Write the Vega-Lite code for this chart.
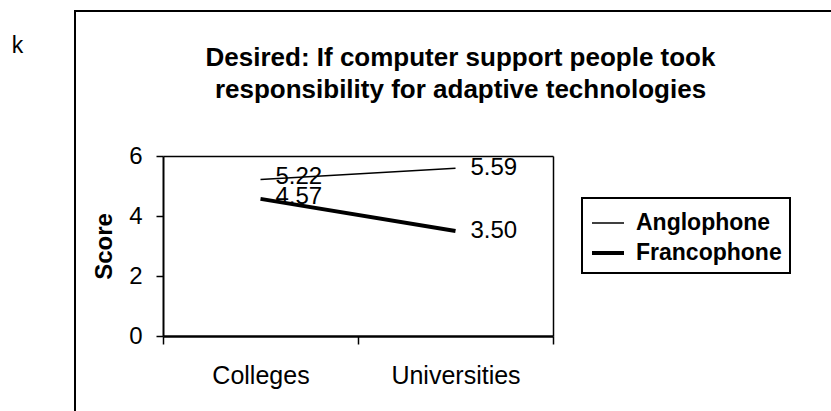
{
  "$schema": "https://vega.github.io/schema/vega-lite/v6.json",
  "width": 770,
  "height": 420,
  "autosize": "none",
  "padding": {"left": 75, "top": 11, "right": 0, "bottom": 0},
  "background": "white",
  "config": {
    "view": {"stroke": "black", "strokeWidth": 2},
    "font": "Liberation Sans",
    "axis": {"grid": false, "domainColor": "black", "tickColor": "black", "labelColor": "black", "titleColor": "black", "labelFont": "Liberation Sans", "titleFont": "Liberation Sans"}
  },
  "data": {
    "values": [
      {"type": "Colleges", "group": "Anglophone", "score": 5.22},
      {"type": "Universities", "group": "Anglophone", "score": 5.59},
      {"type": "Colleges", "group": "Francophone", "score": 4.57},
      {"type": "Universities", "group": "Francophone", "score": 3.50}
    ]
  },
  "layer": [
    {
      "mark": {"type": "line", "color": "black"},
      "encoding": {
        "x": {
          "field": "type", "type": "nominal", "bandPosition": 0.5,
          "scale": {"type": "band", "range": [88, 478], "paddingInner": 0, "paddingOuter": 0},
          "axis": {"orient": "bottom", "offset": -95, "title": null, "tickBand": "extent", "labelAngle": 0, "labelFontSize": 25, "labelBaseline": "middle", "labelPadding": 31, "tickSize": 8, "tickWidth": 1.5, "domainWidth": 2.5}
        },
        "y": {
          "field": "score", "type": "quantitative",
          "scale": {"domain": [0, 6], "range": [325, 145], "nice": false},
          "axis": {"orient": "left", "offset": -88, "values": [0, 2, 4, 6], "title": "Score", "titleFontSize": 24, "titleFontWeight": "bold", "titleAngle": -90, "titleX": -59, "titleY": 235, "titleAlign": "center", "titleBaseline": "middle", "labelFontSize": 24, "labelPadding": 14, "tickSize": 7, "tickWidth": 1.5, "domainWidth": 2}
        },
        "strokeWidth": {
          "field": "group", "type": "nominal",
          "scale": {"domain": ["Anglophone", "Francophone"], "range": [1.5, 4]},
          "legend": {
            "title": null, "orient": "none", "legendX": 507, "legendY": 187,
            "strokeColor": "black", "padding": 8,
            "symbolType": "stroke", "symbolSize": 1024, "symbolStrokeColor": "black",
            "labelFontSize": 23, "labelFontWeight": "bold", "labelFont": "Liberation Sans", "labelColor": "black",
            "labelOffset": 10, "rowPadding": -1,
            "encode": {"legend": {"update": {"strokeWidth": {"value": 2}}}}
          }
        }
      }
    },
    {
      "transform": [{"filter": "datum.type == 'Colleges'"}],
      "mark": {"type": "text", "align": "left", "baseline": "middle", "dx": 15, "dy": -2, "fontSize": 24, "font": "Liberation Sans", "color": "black"},
      "encoding": {
        "x": {
          "field": "type", "type": "nominal", "bandPosition": 0.5,
          "scale": {"type": "band", "range": [88, 478], "paddingInner": 0, "paddingOuter": 0},
          "axis": {"orient": "top", "offset": -145, "labels": false, "ticks": false, "domainWidth": 1.5,
            "title": ["Desired: If computer support people took", "responsibility for adaptive technologies"],
            "titleX": 385, "titleY": -91, "titleAlign": "center", "titleBaseline": "alphabetic", "titleFontSize": 26, "titleFontWeight": "bold", "titleLineHeight": 32}
        },
        "y": {
          "field": "score", "type": "quantitative",
          "scale": {"domain": [0, 6], "range": [325, 145], "nice": false},
          "axis": {"orient": "right", "offset": -292, "labels": false, "ticks": false, "title": null, "domainWidth": 1.5}
        },
        "text": {"field": "score", "type": "quantitative", "format": ".2f"}
      }
    },
    {
      "transform": [{"filter": "datum.type == 'Universities'"}],
      "mark": {"type": "text", "align": "left", "baseline": "middle", "dx": 15, "dy": 0, "fontSize": 24, "font": "Liberation Sans", "color": "black"},
      "encoding": {
        "x": {
          "field": "type", "type": "nominal", "bandPosition": 0.5,
          "scale": {"type": "band", "range": [88, 478], "paddingInner": 0, "paddingOuter": 0},
          "axis": null
        },
        "y": {
          "field": "score", "type": "quantitative",
          "scale": {"domain": [0, 6], "range": [325, 145], "nice": false},
          "axis": {"orient": "left", "offset": 58, "labels": false, "ticks": false, "domain": false, "title": "k", "titleAngle": 0, "titleX": 0, "titleY": 41, "titleAlign": "center", "titleBaseline": "alphabetic", "titleFontSize": 23, "titleFontWeight": "normal"}
        },
        "text": {"field": "score", "type": "quantitative", "format": ".2f"}
      }
    }
  ],
  "resolve": {"axis": {"x": "independent", "y": "independent"}}
}
